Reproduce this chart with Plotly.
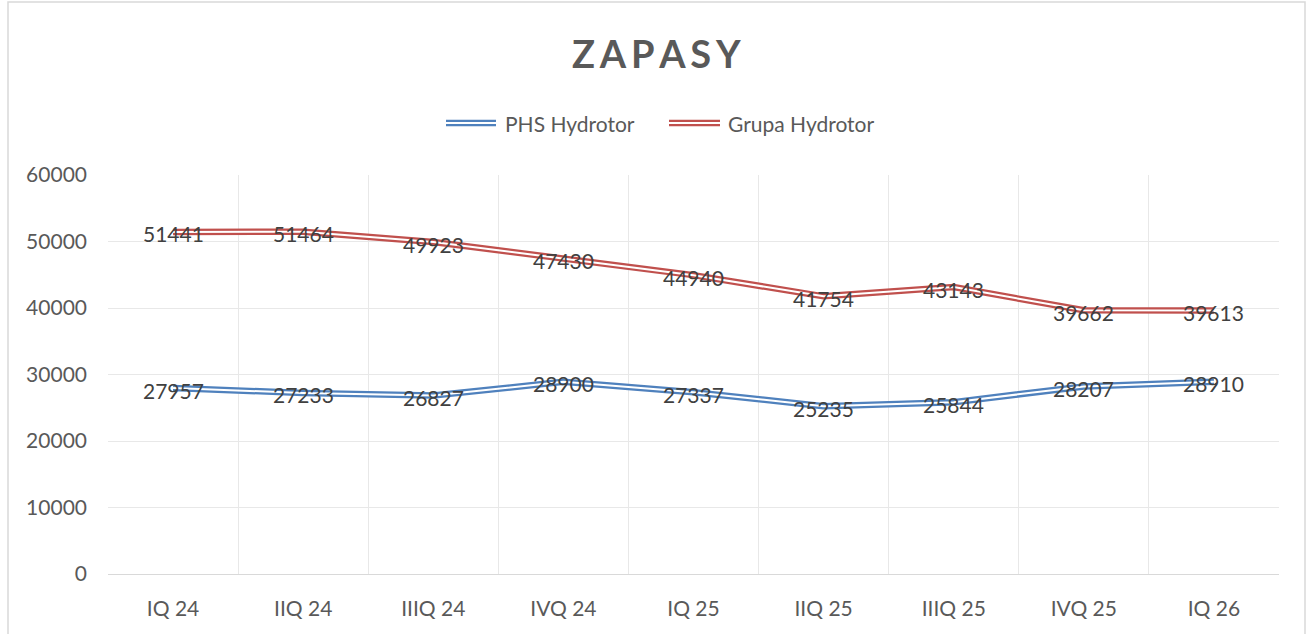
import plotly.graph_objects as go

categories = ["IQ 24", "IIQ 24", "IIIQ 24", "IVQ 24", "IQ 25", "IIQ 25", "IIIQ 25", "IVQ 25", "IQ 26"]
phs_hydrotor = [27957, 27233, 26827, 28900, 27337, 25235, 25844, 28207, 28910]
grupa_hydrotor = [51441, 51464, 49923, 47430, 44940, 41754, 43143, 39662, 39613]
series_names = ["PHS Hydrotor", "Grupa Hydrotor"]
y_ticks = [0, 10000, 20000, 30000, 40000, 50000, 60000]
y_tick_labels = ["0", "10000", "20000", "30000", "40000", "50000", "60000"]

BLUE = "#4F81BD"
RED = "#C0504D"
FONT = "Lato, Open Sans, sans-serif"

fig = go.Figure()
annotations = []
for name, vals, col in [(series_names[0], phs_hydrotor, BLUE), (series_names[1], grupa_hydrotor, RED)]:
    fig.add_trace(go.Scatter(x=categories, y=vals, mode="lines", name=name,
                             line=dict(color=col, width=6.5), showlegend=False, hoverinfo="skip"))
    fig.add_trace(go.Scatter(x=categories, y=vals, mode="lines", name=name,
                             line=dict(color="white", width=2), showlegend=False))
    for c, v in zip(categories, vals):
        annotations.append(dict(x=c, y=v, xref="x", yref="y", text=str(v), showarrow=False,
                                xanchor="center", yanchor="middle", yshift=-2,
                                font=dict(family=FONT, size=21, color="#404040")))

shapes = []

L, R, T, B = 108, 33, 175, 60
W, H = 1312, 634
pw = W - L - R
ph = H - T - B

def px2paper_x(px):
    return (px - L) / pw

def px2paper_y(py):
    return (H - B - py) / ph

for name, col, lx0, lx1, tx in [(series_names[0], BLUE, 446, 496, 503), (series_names[1], RED, 669, 720, 726)]:
    for w, c in [(6.5, col), (2, "white")]:
        shapes.append(dict(type="line", xref="paper", yref="paper",
                           x0=px2paper_x(lx0), x1=px2paper_x(lx1),
                           y0=px2paper_y(123), y1=px2paper_y(123),
                           line=dict(color=c, width=w)))
    annotations.append(dict(text=name, xref="paper", yref="paper", x=px2paper_x(tx), y=px2paper_y(123),
                            xanchor="left", yanchor="middle", showarrow=False,
                            font=dict(family=FONT, size=21, color="#595959")))

# outer chart border
shapes.append(dict(type="rect", xref="paper", yref="paper",
                   x0=px2paper_x(8), x1=px2paper_x(1305), y0=px2paper_y(2), y1=px2paper_y(640),
                   line=dict(color="#D9D9D9", width=1.5), fillcolor="rgba(0,0,0,0)", layer="below"))

annotations.append(dict(text="<b>Z\u2009A\u2009P\u2009A\u2009S\u2009Y</b>", xref="paper", yref="paper",
                        x=px2paper_x(656), y=px2paper_y(53), xanchor="center", yanchor="middle",
                        showarrow=False, font=dict(family=FONT, size=38, color="#595959")))

fig.update_layout(
    width=W, height=H,
    margin=dict(l=L, r=R, t=T, b=B),
    paper_bgcolor="white", plot_bgcolor="white",
    showlegend=False,
    shapes=shapes, annotations=annotations,
    xaxis=dict(type="category", tickson="boundaries", showgrid=True, gridcolor="#E8E8E8", gridwidth=1,
               showline=True, linecolor="#D9D9D9", linewidth=1, ticks="",
               tickfont=dict(family=FONT, size=21, color="#595959"), ticklabelstandoff=16,
               range=[-0.5, 8.5], fixedrange=True),
    yaxis=dict(range=[0, 60000], tickvals=y_ticks, ticktext=y_tick_labels, showgrid=True,
               gridcolor="#E8E8E8", gridwidth=1,
               zeroline=False, showline=False, ticks="",
               tickfont=dict(family=FONT, size=21, color="#595959"), ticklabelstandoff=20),
)
fig.write_html("out.html", config={"displayModeBar": False},
               post_script="document.body.style.margin='0';document.body.style.overflow='hidden';")
